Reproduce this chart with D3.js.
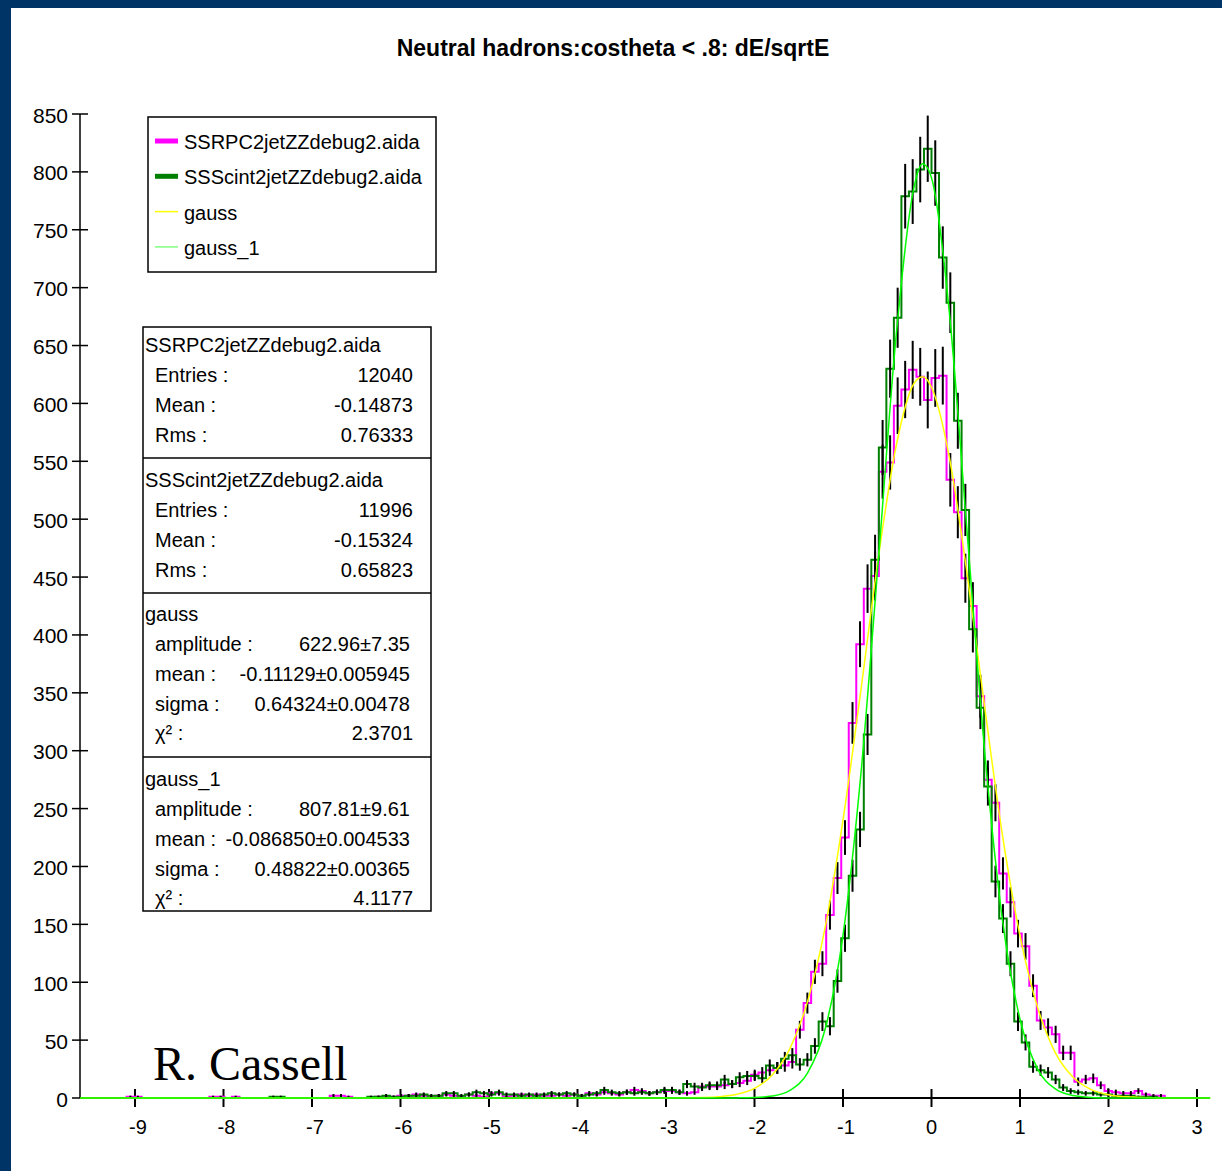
<!DOCTYPE html>
<html><head><meta charset="utf-8">
<script src="https://cdn.jsdelivr.net/npm/d3@7"></script>
<style>
html,body{margin:0;padding:0;background:#003366;}
svg{display:block;}
</style></head>
<body>
<svg id="chart" width="1222" height="1171"></svg>
<script>
// ---------------- data ----------------
const title = "Neutral hadrons:costheta < .8: dE/sqrtE";
const xTicks = [-9,-8,-7,-6,-5,-4,-3,-2,-1,0,1,2,3];
const yTicks = [0,50,100,150,200,250,300,350,400,450,500,550,600,650,700,750,800,850];
const binStart = -9.095;   // left edge of first histogram bin
const binWidth = 0.085;
// SSRPC2jetZZdebug2.aida (magenta)
const rpcCounts = [
 1,1,0,0,0,0,0,0,0,0,0,1,1,0,1,0,0,0,0,0,0,0,0,0,0,0,0,2,2,1,0,0,0,1,1,1,2,2,3,2,1,2,3,2,1,3,2,1,4,4,1,2,3,2,3,2,2,3,2,3,2,4,3,5,4,3,5,7,6,4,5,6,6,5,4,5,10,10,10,11,12,13,15,20,22,24,26,28,31,59,82,109,116,158,190,225,324,392,440,451,541,549,598,612,629,623,603,622,624,534,506,449,425,347,275,255,194,169,142,131,97,67,61,55,39,39,14,16,17,11,6,5,4,4,6,3,2,2
];
// SSScint2jetZZdebug2.aida (dark green)
const scintCounts = [
 0,0,0,0,0,0,0,0,0,0,0,0,0,0,0,0,0,0,0,1,1,0,0,0,0,0,0,0,0,0,0,0,1,1,2,1,1,2,2,3,2,2,4,4,2,3,5,4,3,5,3,3,2,3,2,3,4,3,4,3,2,3,4,7,5,4,5,4,5,4,5,7,7,5,12,10,9,11,11,16,12,18,19,19,17,28,26,34,37,29,33,45,66,62,101,138,192,232,314,465,562,630,674,779,783,802,820,799,726,687,585,508,405,337,269,187,155,116,66,48,27,24,22,16,9,6,5,4,4,3,3,2,2,2,1,1,1,0
];
// fitted curves, sampled
const fitX    = [-9.62,-3.0,-2.6,-2.4,-2.2,-2.0,-1.8,-1.6,-1.4,-1.2,-1.0,-0.8,-0.6,-0.4,-0.2,-0.1,0.0,0.2,0.4,0.6,0.8,1.0,1.2,1.4,1.6,1.8,2.0,2.2,2.6,3.15];
const gaussY  = [0,0,0.4,1.1,3.2,8.3,19.8,42.6,83.5,148,240,351,467,563,617,623,614,554,454,338,228,140,78,39,18,7.5,2.8,1,0.1,0];
const gauss1Y = [0,0,0,0,0.1,0.4,1.7,6.6,21.7,60,140.5,278,465,658,786,807,795,680,491,300,155,68,25,7.8,2.1,0.5,0.1,0,0,0];

const legendNames  = ["SSRPC2jetZZdebug2.aida","SSScint2jetZZdebug2.aida","gauss","gauss_1"];
const legendColors = ["#ff00ff","#008000","#ffff00","#80ff80"];
const legendWidths = [5,5,1.5,1.5];

const statTitles = ["SSRPC2jetZZdebug2.aida","SSScint2jetZZdebug2.aida","gauss","gauss_1"];
const rpcStats    = [["Entries :","12040"],["Mean :","-0.14873"],["Rms :","0.76333"]];
const scintStats  = [["Entries :","11996"],["Mean :","-0.15324"],["Rms :","0.65823"]];
const gaussStats  = [["amplitude :","622.96±7.35"],["mean :","-0.11129±0.005945"],["sigma :","0.64324±0.00478"],["χ² :","2.3701"]];
const gauss1Stats = [["amplitude :","807.81±9.61"],["mean :","-0.086850±0.004533"],["sigma :","0.48822±0.00365"],["χ² :","4.1177"]];

// ---------------- drawing ----------------
const SANS = "'Liberation Sans', Arial, sans-serif";
const SERIF = "'Liberation Serif', 'Times New Roman', serif";
const svg = d3.select("#chart");
svg.append("rect").attr("x",11).attr("y",8).attr("width",1222-11).attr("height",1171-8).attr("fill","#ffffff");

const x = d3.scaleLinear().domain([-9, 3]).range([135, 1197]);
const xMin = x.invert(80), xMax = x.invert(1210);
const y = d3.scaleLinear().domain([0, 850]).range([1098, 114]);

function txt(g, xx, yy, s, size, anchor){
  return g.append("text").attr("x",xx).attr("y",yy).attr("text-anchor",anchor||"start")
    .attr("dominant-baseline","central").style("font-family",SANS).style("font-size",size+"px").text(s);
}

// title
txt(svg, 613, 48, title, 23, "middle").style("font-weight","bold");

// axes
const axisG = svg.append("g");
axisG.append("line").attr("x1",x(xMin)).attr("x2",x(xMax)).attr("y1",y(0)).attr("y2",y(0))
  .attr("stroke","#000").attr("stroke-width",2);
axisG.append("line").attr("x1",80).attr("x2",80).attr("y1",y(0)).attr("y2",y(850))
  .attr("stroke","#000").attr("stroke-width",1.5);
xTicks.forEach(t=>{
  axisG.append("line").attr("x1",x(t)).attr("x2",x(t)).attr("y1",y(0)-9).attr("y2",y(0)+9)
    .attr("stroke","#000").attr("stroke-width",2);
  txt(axisG, x(t)+(t<0?3:0), 1127, t, 20, "middle");
});
yTicks.forEach(t=>{
  axisG.append("line").attr("x1",72).attr("x2",88).attr("y1",y(t)).attr("y2",y(t))
    .attr("stroke","#000").attr("stroke-width",1.5);
  txt(axisG, 68, y(t)+1, t, 21, "end");
});

// histograms
function stepPoints(counts){
  const pts=[[binStart,0]];
  counts.forEach((v,i)=>{
    const a=binStart+i*binWidth, b=a+binWidth;
    pts.push([a,v]); pts.push([b,v]);
  });
  pts.push([binStart+counts.length*binWidth,0]);
  return pts;
}
const line = d3.line().x(d=>x(d[0])).y(d=>y(d[1]));
function drawHist(counts,color){
  svg.append("path").attr("d",line(stepPoints(counts))).attr("fill","none")
    .attr("stroke",color).attr("stroke-width",2).attr("stroke-linejoin","miter");
  const g=svg.append("g");
  counts.forEach((v,i)=>{
    if(v<=0) return;
    const c=binStart+(i+0.5)*binWidth, e=Math.sqrt(v);
    g.append("line").attr("x1",x(c)).attr("x2",x(c)).attr("y1",y(v-e)).attr("y2",y(v+e))
      .attr("stroke","#000").attr("stroke-width",2);
  });
}
drawHist(rpcCounts,"#ff00ff");
drawHist(scintCounts,"#008000");

// fits
const fitLine = d3.line().x((d,i)=>x(fitX[i])).y(d=>y(d)).curve(d3.curveMonotoneX);
svg.append("path").attr("d",fitLine(gaussY)).attr("fill","none").attr("stroke","#ffff00").attr("stroke-width",1.5);
svg.append("path").attr("d",fitLine(gauss1Y)).attr("fill","none").attr("stroke","#00ff00").attr("stroke-width",1.5);

// legend
const lg = svg.append("g");
lg.append("rect").attr("x",148).attr("y",117).attr("width",288).attr("height",155)
  .attr("fill","#fff").attr("stroke","#000").attr("stroke-width",1.5);
legendNames.forEach((n,i)=>{
  const yy = 141 + i*35.3;
  lg.append("line").attr("x1",155).attr("x2",178).attr("y1",yy).attr("y2",yy)
    .attr("stroke",legendColors[i]).attr("stroke-width",legendWidths[i]);
  txt(lg, 184, yy+1, n, 20);
});

// stats box
const sg = svg.append("g");
sg.append("rect").attr("x",143).attr("y",327).attr("width",288).attr("height",584)
  .attr("fill","#fff").attr("stroke","#000").attr("stroke-width",1.5);
[458,593,757].forEach(yy=>sg.append("line").attr("x1",143).attr("x2",431).attr("y1",yy).attr("y2",yy)
  .attr("stroke","#000").attr("stroke-width",1.5));
const sections = [
  {t:statTitles[0], y:345, rows:rpcStats, r:413},
  {t:statTitles[1], y:480, rows:scintStats, r:413},
  {t:statTitles[2], y:614, rows:gaussStats, r:410},
  {t:statTitles[3], y:779, rows:gauss1Stats, r:410}
];
sections.forEach(s=>{
  txt(sg, 145, s.y, s.t, 20);
  s.rows.forEach((r,j)=>{
    const yy = s.y + 30*(j+1) - (j==3?1:0);
    txt(sg, 155, yy, r[0], 20);
    txt(sg, j==3 ? 413 : s.r, yy, r[1], 20, "end");
  });
});

// signature
svg.append("text").attr("x",153).attr("y",1080).style("font-family",SERIF)
  .style("font-size","48px").text("R. Cassell");
</script>
</body></html>
